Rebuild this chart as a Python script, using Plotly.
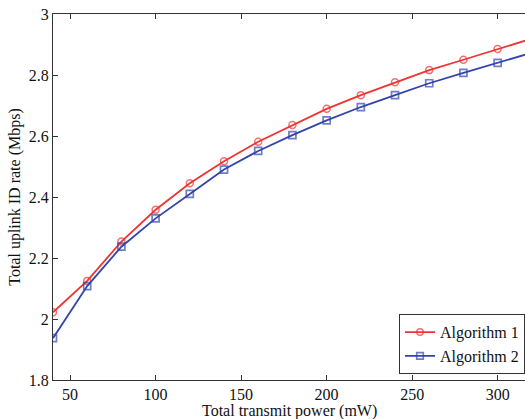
import plotly.graph_objects as go

# data
power_mw = [40, 60, 80, 100, 120, 140, 160, 180, 200, 220, 240, 260, 280, 300, 320]
alg1_rate = [2.022, 2.125, 2.254, 2.358, 2.445, 2.517, 2.581, 2.636, 2.689,
             2.734, 2.776, 2.816, 2.850, 2.885, 2.919]
alg2_rate = [1.937, 2.108, 2.237, 2.330, 2.410, 2.490, 2.551, 2.603, 2.651,
             2.695, 2.734, 2.773, 2.807, 2.840, 2.873]

RED = "#ee3333"
BLUE = "#3344aa"
FONT = "Liberation Serif, Times New Roman, serif"

# marker on every point except the last (line runs on to the edge)
msize = [7] * (len(power_mw) - 1) + [0]

fig = go.Figure()
fig.add_trace(go.Scatter(
    x=power_mw, y=alg1_rate, name="Algorithm 1",
    mode="lines+markers",
    line=dict(color=RED, width=1.8),
    marker=dict(symbol="circle-open", size=msize, color=RED, line=dict(width=1.5)),
))
fig.add_trace(go.Scatter(
    x=power_mw, y=alg2_rate, name="Algorithm 2",
    mode="lines+markers",
    line=dict(color=BLUE, width=1.8),
    marker=dict(symbol="square-open", size=msize, color=BLUE, line=dict(width=1.7)),
))

axis_common = dict(
    showgrid=False, zeroline=False,
    showline=True, linecolor="#333333", linewidth=1,
    ticks="inside", ticklen=5, tickcolor="#333333",
    tickfont=dict(family=FONT, size=16, color="#111111"),
)

fig.update_layout(
    width=525, height=419,
    margin=dict(l=53, r=0, t=14, b=39),
    paper_bgcolor="white", plot_bgcolor="white",
    font=dict(family=FONT, color="#111111"),
    xaxis=dict(
        range=[40, 316], tickvals=[50, 100, 150, 200, 250, 300],
        mirror="ticks",
        **axis_common,
    ),
    yaxis=dict(
        range=[1.8, 3.0], dtick=0.2,
        title=dict(text="Total uplink ID rate (Mbps)", font=dict(family=FONT, size=16), standoff=4),
        **axis_common,
    ),
    legend=dict(
        x=1, y=0.016, xanchor="right", yanchor="bottom",
        bgcolor="white", bordercolor="#333333", borderwidth=1,
        font=dict(family=FONT, size=16, color="#111111"),
        tracegroupgap=0, itemwidth=30,
    ),
    showlegend=True,
)

# x-axis title placed by hand so it sits tight under the tick labels
fig.add_annotation(
    text="Total transmit power (mW)", xref="paper", yref="paper",
    x=0.5, y=-0.085, xanchor="center", yanchor="middle",
    showarrow=False, font=dict(family=FONT, size=16, color="#111111"),
)

# drop the default body margin so the 525x419 figure fills the window
fig.write_html(
    "out.html",
    config={"displayModeBar": False},
    post_script="document.body.style.margin='0';document.body.style.overflow='hidden';",
)
